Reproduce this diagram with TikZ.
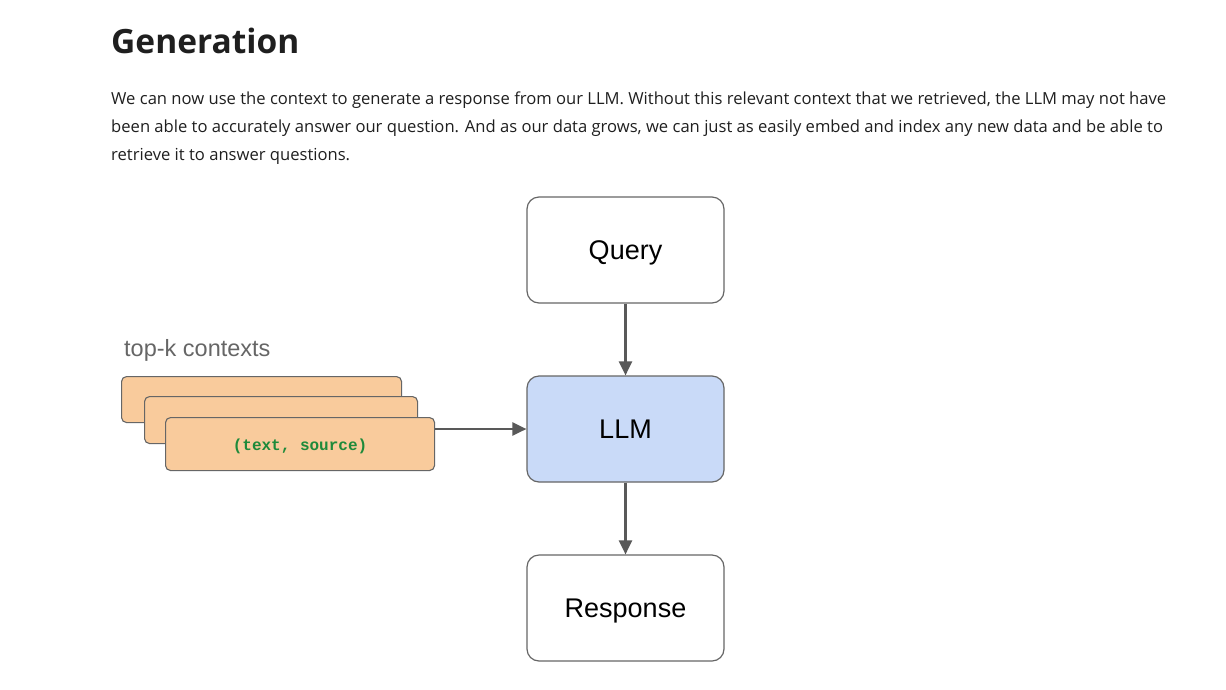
\documentclass[tikz,border=0pt]{standalone}
\usepackage{fontspec}
\setmainfont{Open Sans}
\newfontfamily\arialfont{Liberation Sans}
\newfontfamily\monofont{Liberation Mono}
\usetikzlibrary{arrows.meta}
\definecolor{bordergray}{HTML}{666666}
\definecolor{arrowgray}{HTML}{595959}
\definecolor{llmblue}{HTML}{C9DAF8}
\definecolor{ctxorange}{HTML}{F9CB9C}
\definecolor{codegreen}{HTML}{1E8A3A}
\definecolor{bodytext}{HTML}{1F1F1F}
\begin{document}
\begin{tikzpicture}[x=1pt,y=-1pt,
  flowbox/.style={draw=bordergray, line width=1.2pt, rounded corners=12pt, minimum width=197pt, minimum height=106pt, font=\arialfont\fontsize{27}{30}\selectfont, text=black, text depth=0pt, text height=19pt},
  ctxbox/.style={draw=bordergray, line width=1.1pt, rounded corners=5pt, fill=ctxorange, anchor=north west},
  conn/.style={draw=arrowgray, line width=2.2pt, -{Triangle[length=14pt,width=13pt]}},
  bodyline/.style={anchor=base west, inner sep=0pt, text=bodytext, font=\fontsize{16.6}{20}\selectfont}
]
\useasboundingbox (0,0) rectangle (1226,689);
\fill[white] (0,0) rectangle (1226,689);
% heading and body
\node[anchor=base west, inner sep=0pt, text=bodytext, font=\bfseries\fontsize{33.5}{38}\selectfont] (head) at (111,53) {Generation};
\node[bodyline] (l1) at (111,104) {We can now use the context to generate a response from our LLM. Without this relevant context that we retrieved, the LLM may not have};
\node[bodyline] (l2) at (111,132) {been able to accurately answer our question. And as our data grows, we can just as easily embed and index any new data and be able to};
\node[bodyline] (l3) at (111,160) {retrieve it to answer questions.};
% flow boxes
\node[flowbox, fill=white] (query) at (625.5,250) {Query};
\node[flowbox, fill=llmblue] (llm) at (625.5,429) {LLM};
\node[flowbox, fill=white] (resp) at (625.5,608) {Response};
% contexts
\node[anchor=base west, inner sep=0pt, text=bordergray, font=\arialfont\fontsize{23.5}{26}\selectfont] (topk) at (124,356) {top-k contexts};
\node[ctxbox, minimum width=280pt, minimum height=46pt] (c1) at (121,376) {};
\node[ctxbox, minimum width=273pt, minimum height=47pt] (c2) at (144,396) {};
\node[ctxbox, minimum width=269pt, minimum height=53pt, font=\monofont\bfseries\fontsize{16}{18}\selectfont, text=codegreen, text depth=0pt] (c3) at (165,417) {\raisebox{-2pt}{(text, source)}};
\coordinate (c3out) at (c3.east |- llm.west);
\draw[conn] (c3out) -- (llm.west);
\draw[conn] (query.south) -- (llm.north);
\draw[conn] (llm.south) -- (resp.north);
\end{tikzpicture}
\end{document}
